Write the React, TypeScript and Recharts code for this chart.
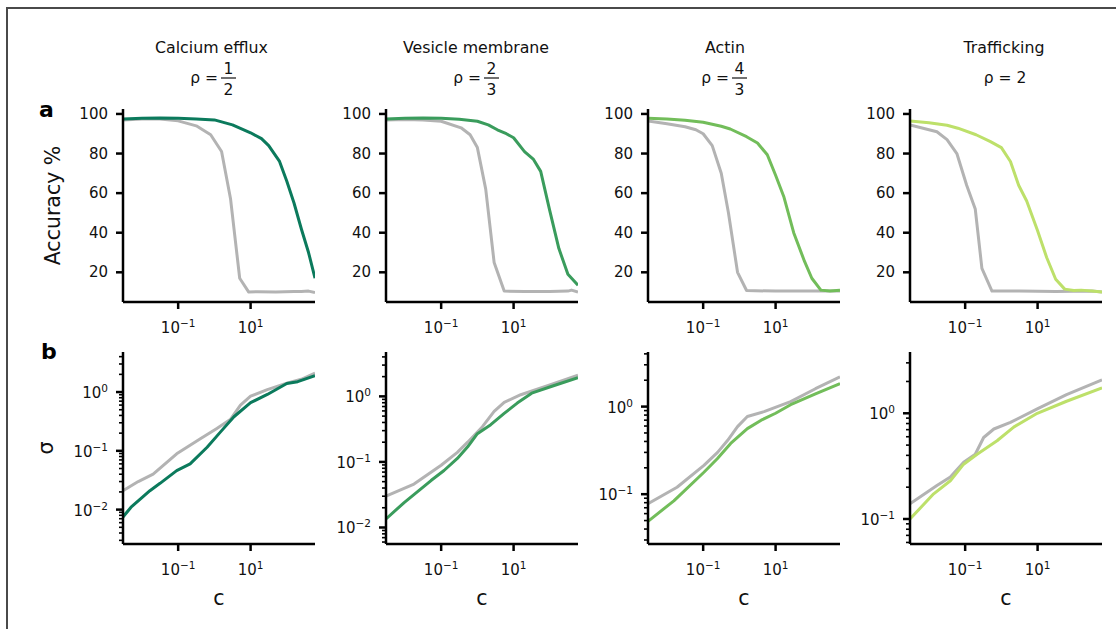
import React from 'react';
import { LineChart, Line, XAxis, YAxis } from 'recharts';

type Pt = [number, number];

// panel headers
const titles = ['Calcium efflux', 'Vesicle membrane', 'Actin', 'Trafficking'];
const rhos: string[][] = [['1', '2'], ['2', '3'], ['4', '3'], ['2']];
const colors = ['#0b7a5c', '#3a9c5c', '#72bd5a', '#bde06a'];
const GREY = '#b3b3b3';

// axes
const C_DOMAIN: [number, number] = [0.003, 600];
const C_TICKS = [0.1, 10];
const ACC_DOMAIN: [number, number] = [5, 102.5];
const ACC_TICKS = [20, 40, 60, 80, 100];
const SIGMA_DOMAINS: [number, number][] = [[0.0026, 4.8], [0.0056, 4.75], [0.027, 4.2], [0.058, 3.8]];

// row a: accuracy (%) vs c
const accGreen: Pt[][] = [
  [[0.003, 97.5], [0.01, 97.8], [0.0316, 98], [0.1, 97.8], [0.316, 97.5], [1, 97], [3.16, 94.5], [10, 90.5], [20, 87.5], [31.6, 84], [63, 76], [100, 66], [158, 55], [251, 42], [398, 30], [600, 17]],
  [[0.003, 97.5], [0.01, 97.8], [0.0316, 98], [0.1, 97.8], [0.316, 97.3], [1, 96.3], [2, 94.5], [3.55, 92], [6.3, 90], [10, 88], [20, 81], [35.5, 77], [56, 71], [100, 51], [178, 32], [316, 19], [600, 13.5]],
  [[0.003, 97.8], [0.01, 97.5], [0.0316, 96.8], [0.1, 95.8], [0.316, 93.8], [0.56, 92.4], [1.58, 88.5], [3.16, 85.3], [5.9, 79.4], [10, 69], [17, 58], [31.6, 40], [63, 25.5], [100, 17], [178, 11], [316, 10.5], [600, 11]],
  [[0.003, 96.5], [0.01, 95.5], [0.0316, 94.3], [0.063, 92.8], [0.2, 89.5], [0.5, 86], [1, 83], [1.78, 76], [3, 64], [5, 56], [10, 41], [17.8, 27.5], [31.6, 16.5], [56, 11.5], [100, 10.8], [158, 11], [316, 10.5], [600, 10]],
];
const accGrey: Pt[][] = [
  [[0.003, 97], [0.01, 97.5], [0.0316, 97.5], [0.1, 96.5], [0.316, 94], [0.79, 89.5], [1.58, 81], [2.8, 57], [5, 17], [8.9, 10], [15.8, 10.2], [50, 10], [158, 10.3], [251, 10.3], [398, 10.5], [600, 9.8]],
  [[0.003, 97], [0.01, 97.2], [0.0316, 97], [0.1, 96.3], [0.355, 93], [0.63, 89.5], [1, 83], [1.7, 62], [2.9, 25], [5.5, 10.5], [20, 10.3], [100, 10.3], [316, 10.5], [398, 11], [600, 10]],
  [[0.003, 96.5], [0.01, 95], [0.0316, 93.5], [0.063, 92], [0.1, 90], [0.178, 84], [0.316, 70], [0.5, 50], [0.89, 20], [1.58, 10.8], [10, 10.5], [100, 10.5], [600, 10.5]],
  [[0.003, 94.5], [0.0166, 91], [0.0316, 87], [0.059, 80], [0.11, 64], [0.19, 52], [0.29, 22], [0.55, 10.5], [3.16, 10.5], [31.6, 10.3], [316, 10.5], [600, 10]],
];

// row b: sigma vs c
const sigGreen: Pt[][] = [
  [[0.003, 0.0075], [0.005, 0.011], [0.01, 0.016], [0.0166, 0.021], [0.0316, 0.028], [0.091, 0.046], [0.214, 0.06], [0.63, 0.115], [1.48, 0.21], [3.47, 0.38], [10, 0.66], [29, 0.91], [100, 1.4], [200, 1.5], [600, 1.9]],
  [[0.003, 0.0135], [0.0095, 0.024], [0.0525, 0.052], [0.12, 0.074], [0.28, 0.113], [0.54, 0.17], [1, 0.27], [2.34, 0.37], [5.5, 0.55], [12.6, 0.79], [31.6, 1.12], [126, 1.45], [600, 1.92]],
  [[0.003, 0.049], [0.0155, 0.084], [0.105, 0.178], [0.245, 0.254], [0.575, 0.38], [1.66, 0.56], [4, 0.7], [10, 0.84], [26, 1.05], [126, 1.4], [600, 1.83]],
  [[0.003, 0.1], [0.0135, 0.173], [0.039, 0.23], [0.091, 0.33], [0.214, 0.41], [0.76, 0.55], [2.19, 0.74], [9.8, 1.0], [63, 1.3], [600, 1.74]],
];
const sigGrey: Pt[][] = [
  [[0.003, 0.021], [0.0079, 0.03], [0.0204, 0.04], [0.091, 0.089], [0.41, 0.16], [1.17, 0.24], [2.75, 0.34], [5.25, 0.6], [10, 0.85], [29, 1.1], [100, 1.42], [251, 1.65], [600, 2.1]],
  [[0.003, 0.03], [0.0178, 0.046], [0.1, 0.089], [0.28, 0.14], [0.54, 0.2], [1.38, 0.345], [2.9, 0.59], [5.5, 0.81], [15.8, 1.06], [100, 1.5], [600, 2.1]],
  [[0.003, 0.078], [0.019, 0.12], [0.105, 0.213], [0.25, 0.3], [0.47, 0.41], [0.89, 0.59], [1.66, 0.77], [4.8, 0.875], [26, 1.14], [126, 1.6], [600, 2.18]],
  [[0.003, 0.139], [0.0166, 0.207], [0.039, 0.25], [0.091, 0.345], [0.19, 0.41], [0.324, 0.59], [0.62, 0.71], [1.78, 0.82], [9.8, 1.1], [63, 1.5], [600, 2.07]],
];

const FONT = '"DejaVu Sans", sans-serif';
const PLOT_LEFT = [123, 386, 648, 910];
const PLOT_W = 192;
const YW = 60;
const MT = 4;
const MR = 4;
const titleX = [211.5, 476, 725, 1004];
const rhoX = [214, 477, 725, 1005];

const toRows = (pts: Pt[]) => pts.map(([c, v]) => ({ c, v }));

const expLabel = (v: number) => {
  const e = Math.round(Math.log10(v));
  return e < 0 ? '\u2212' + Math.abs(e) : String(e);
};

const XTick = (props: any) => {
  const { x, y, payload } = props;
  return (
    <text x={x} y={y + 24} textAnchor="middle" fontSize={15} fill="#111" fontFamily={FONT}>
      10<tspan dy={-6} fontSize={10.5}>{expLabel(payload.value)}</tspan>
    </text>
  );
};

const AccTick = (props: any) => {
  const { x, y, payload } = props;
  return (
    <text x={x} y={y + 5} textAnchor="end" fontSize={15} fill="#111" fontFamily={FONT}>
      {payload.value}
    </text>
  );
};

const SigmaTick = (props: any) => {
  const { x, y, payload } = props;
  const lg = Math.log10(payload.value);
  const major = Math.abs(lg - Math.round(lg)) < 1e-6;
  const ax = x + 15;
  return (
    <g>
      <line x1={ax - (major ? 7 : 4)} x2={ax} y1={y} y2={y} stroke="#000" strokeWidth={major ? 2.5 : 1.6} />
      {major && (
        <text x={x} y={y + 6} textAnchor="end" fontSize={15} fill="#111" fontFamily={FONT}>
          10<tspan dy={-6} fontSize={10.5}>{expLabel(payload.value)}</tspan>
        </text>
      )}
    </g>
  );
};

const logTicks = ([lo, hi]: [number, number]) => {
  const out: number[] = [];
  for (let n = Math.floor(Math.log10(lo)); n <= Math.ceil(Math.log10(hi)); n++) {
    for (let k = 1; k <= 9; k++) {
      const v = parseFloat((k * Math.pow(10, n)).toPrecision(6));
      if (v >= lo && v <= hi) out.push(v);
    }
  }
  return out;
};

const axisStroke = { stroke: '#000', strokeWidth: 2.5 };

function Panel({ i, row }: { i: number; row: 'a' | 'b' }) {
  const top = row === 'a' ? 109 : 352;
  const plotH = row === 'a' ? 193 : 192;
  const grey = row === 'a' ? accGrey[i] : sigGrey[i];
  const green = row === 'a' ? accGreen[i] : sigGreen[i];
  const width = YW + PLOT_W + MR;
  const height = MT + plotH + 40;
  return (
    <div style={{ position: 'absolute', left: PLOT_LEFT[i] - YW, top: top - MT }}>
      <LineChart width={width} height={height} margin={{ top: MT, right: MR, bottom: 0, left: 0 }}>
        <XAxis
          dataKey="c"
          type="number"
          scale="log"
          domain={C_DOMAIN}
          allowDataOverflow
          ticks={C_TICKS}
          interval={0}
          height={40}
          tickSize={7}
          tickMargin={0}
          axisLine={axisStroke}
          tickLine={axisStroke}
          tick={<XTick />}
        />
        {row === 'a' ? (
          <YAxis
            type="number"
            domain={ACC_DOMAIN}
            allowDataOverflow
            ticks={ACC_TICKS}
            interval={0}
            width={YW}
            tickSize={7}
            tickMargin={8}
            axisLine={axisStroke}
            tickLine={axisStroke}
            tick={<AccTick />}
          />
        ) : (
          <YAxis
            type="number"
            scale="log"
            domain={SIGMA_DOMAINS[i]}
            allowDataOverflow
            ticks={logTicks(SIGMA_DOMAINS[i])}
            interval={0}
            width={YW}
            tickSize={7}
            tickMargin={8}
            axisLine={axisStroke}
            tickLine={false}
            tick={<SigmaTick />}
          />
        )}
        <Line data={toRows(grey)} dataKey="v" type="linear" stroke={GREY} strokeWidth={3} dot={false} isAnimationActive={false} strokeLinejoin="round" />
        <Line data={toRows(green)} dataKey="v" type="linear" stroke={colors[i]} strokeWidth={3} dot={false} isAnimationActive={false} strokeLinejoin="round" />
      </LineChart>
    </div>
  );
}

function Labels() {
  return (
    <svg width={1116} height={629} style={{ position: 'absolute', left: 0, top: 0 }} fontFamily={FONT}>
      {titles.map((t, i) => (
        <text key={t} x={titleX[i]} y={52.5} textAnchor="middle" fontSize={15.8} fill="#111">{t}</text>
      ))}
      {rhos.map((r, i) =>
        r.length === 1 ? (
          <text key={i} x={rhoX[i]} y={83} textAnchor="middle" fontSize={15.5} fill="#111">{'\u03c1 = ' + r[0]}</text>
        ) : (
          <g key={i} fill="#111" fontSize={15.5}>
            <text x={rhoX[i] + 4} y={83} textAnchor="end">{'\u03c1 ='}</text>
            <text x={rhoX[i] + 14.5} y={73.5} textAnchor="middle">{r[0]}</text>
            <line x1={rhoX[i] + 7} x2={rhoX[i] + 22} y1={78} y2={78} stroke="#111" strokeWidth={1.2} />
            <text x={rhoX[i] + 14.5} y={94.5} textAnchor="middle">{r[1]}</text>
          </g>
        )
      )}
      <text x={39} y={117} fontSize={22} fontWeight="bold" fill="#000">a</text>
      <text x={41} y={358.5} fontSize={22} fontWeight="bold" fill="#000">b</text>
      <text transform="translate(60,205.5) rotate(-90)" textAnchor="middle" fontSize={20.5} fill="#111">Accuracy %</text>
      <text transform="translate(53,448) rotate(-90)" textAnchor="middle" fontSize={20.5} fill="#111">{'\u03c3'}</text>
      {PLOT_LEFT.map((l, i) => (
        <text key={i} x={l + PLOT_W / 2} y={605} textAnchor="middle" fontSize={20.5} fill="#111">c</text>
      ))}
    </svg>
  );
}

export default function App() {
  return (
    <div style={{ position: 'absolute', left: 0, top: 0, width: 1116, height: 629, background: '#fff', overflow: 'hidden' }}>
      <div style={{ position: 'absolute', left: 6, top: 7, width: 1110, height: 622, borderTop: '2px solid #4a4a4a', borderLeft: '2px solid #4a4a4a' }} />
      <Labels />
      {[0, 1, 2, 3].map((i) => (
        <React.Fragment key={i}>
          <Panel i={i} row="a" />
          <Panel i={i} row="b" />
        </React.Fragment>
      ))}
    </div>
  );
}
